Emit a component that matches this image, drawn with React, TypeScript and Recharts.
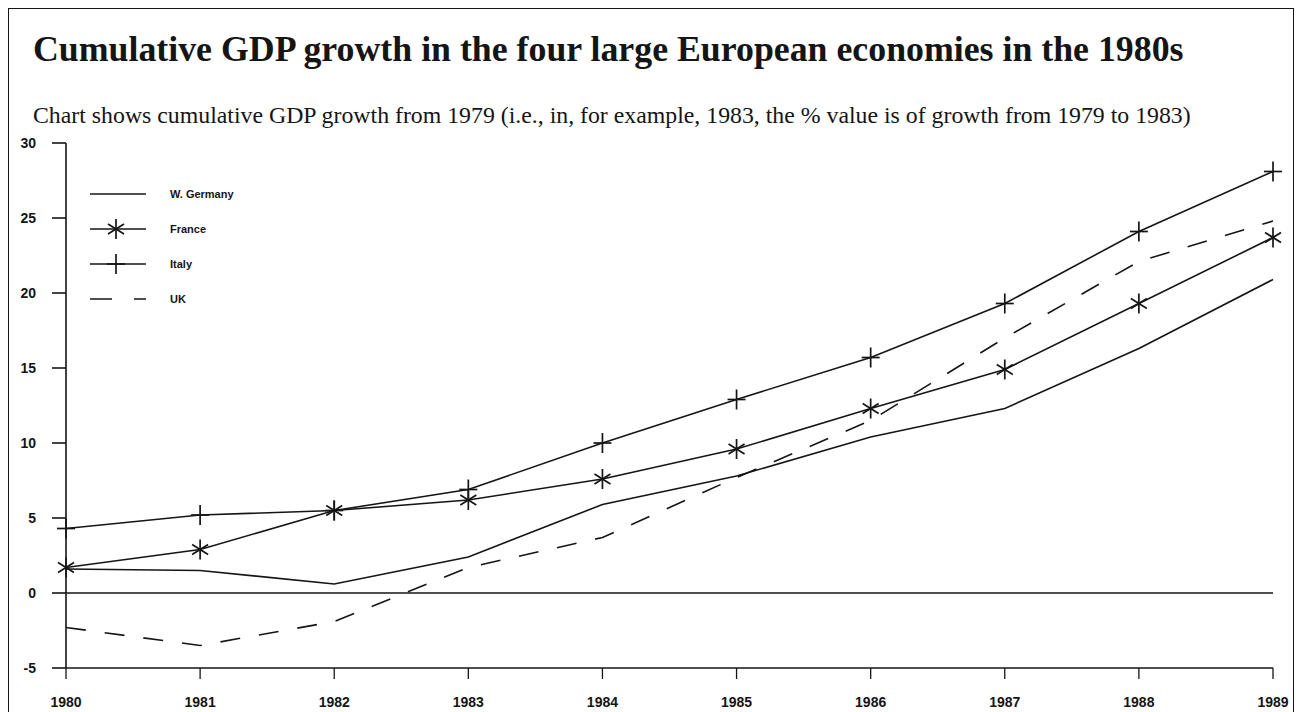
import { LineChart, Line, XAxis, YAxis, ReferenceLine } from "recharts";

const years = ["1980", "1981", "1982", "1983", "1984", "1985", "1986", "1987", "1988", "1989"];
const wGermany = [1.6, 1.5, 0.6, 2.4, 5.9, 7.8, 10.4, 12.3, 16.3, 20.9];
const france = [1.7, 2.9, 5.5, 6.2, 7.6, 9.6, 12.3, 14.9, 19.3, 23.7];
const italy = [4.3, 5.2, 5.5, 6.9, 10.0, 12.9, 15.7, 19.3, 24.1, 28.1];
const uk = [-2.3, -3.5, -1.9, 1.7, 3.7, 7.7, 11.5, 17.0, 22.1, 24.8];
const yTicks = [-5, 0, 5, 10, 15, 20, 25, 30];

const data = years.map((year, i) => ({
  year,
  wGermany: wGermany[i],
  france: france[i],
  italy: italy[i],
  uk: uk[i],
}));

const INK = "#151515";
const SANS = "Arial, 'Liberation Sans', sans-serif";
const SERIF = "'Times New Roman', 'Liberation Serif', serif";

function Asterisk({ cx, cy }: { cx: number; cy: number }) {
  return (
    <g stroke={INK} strokeWidth={1.7}>
      <line x1={cx} y1={cy - 10} x2={cx} y2={cy + 10} />
      <line x1={cx - 8} y1={cy - 5} x2={cx + 8} y2={cy + 5} />
      <line x1={cx - 8} y1={cy + 5} x2={cx + 8} y2={cy - 5} />
    </g>
  );
}

function Plus({ cx, cy }: { cx: number; cy: number }) {
  return (
    <g stroke={INK} strokeWidth={1.7}>
      <line x1={cx} y1={cy - 10} x2={cx} y2={cy + 10} />
      <line x1={cx - 9} y1={cy} x2={cx + 9} y2={cy} />
    </g>
  );
}

const legendItems = [
  { key: "wGermany", label: "W. Germany" },
  { key: "france", label: "France" },
  { key: "italy", label: "Italy" },
  { key: "uk", label: "UK" },
];

// legend drawn as an overlay so it doesn't eat into the plot area
function LegendBox() {
  return (
    <div style={{ position: "absolute", left: 88, top: 176 }}>
      {legendItems.map((item) => (
        <div key={item.key} style={{ display: "flex", alignItems: "center", height: 35 }}>
          <svg width={60} height={24} style={{ marginRight: 22 }}>
            {item.key === "uk" ? (
              <line x1={2} y1={12} x2={58} y2={12} stroke={INK} strokeWidth={1.6} strokeDasharray="22 22" />
            ) : (
              <line x1={2} y1={12} x2={58} y2={12} stroke={INK} strokeWidth={1.6} />
            )}
            {item.key === "france" && <Asterisk cx={28} cy={12} />}
            {item.key === "italy" && <Plus cx={28} cy={12} />}
          </svg>
          <span style={{ fontFamily: SANS, fontSize: 11, fontWeight: 700, color: INK }}>{item.label}</span>
        </div>
      ))}
    </div>
  );
}

export default function App() {
  return (
    <div style={{ position: "absolute", left: 0, top: 0, width: 1300, height: 712, background: "#fff", overflow: "hidden" }}>
      <div
        style={{
          position: "absolute",
          left: 8,
          top: 8,
          width: 1284,
          height: 720,
          border: `1.5px solid ${INK}`,
        }}
      />
      <div
        style={{
          position: "absolute",
          left: 33,
          top: 28,
          fontFamily: SERIF,
          fontWeight: 700,
          fontSize: 35.8,
          color: INK,
          whiteSpace: "nowrap",
        }}
      >
        Cumulative GDP growth in the four large European economies in the 1980s
      </div>
      <div
        style={{
          position: "absolute",
          left: 33,
          top: 102,
          fontFamily: SERIF,
          fontSize: 23.8,
          color: INK,
          whiteSpace: "nowrap",
        }}
      >
        Chart shows cumulative GDP growth from 1979 (i.e., in, for example, 1983, the % value is of growth from 1979 to 1983)
      </div>
      <div style={{ position: "absolute", left: 0, top: 0 }}>
        <LineChart width={1300} height={712} data={data} margin={{ top: 143, right: 27, bottom: 14, left: 16 }}>
          <XAxis
            dataKey="year"
            axisLine={{ stroke: INK, strokeWidth: 1.6 }}
            tickLine={{ stroke: INK, strokeWidth: 1.3 }}
            tickSize={11}
            tickMargin={18}
            height={30}
            interval={0}
            tick={{ fill: INK, fontFamily: SANS, fontSize: 14, fontWeight: 700 }}
          />
          <YAxis
            domain={[-5, 30]}
            ticks={yTicks}
            width={50}
            axisLine={{ stroke: INK, strokeWidth: 1.6 }}
            tickLine={{ stroke: INK, strokeWidth: 1.6 }}
            tickSize={14}
            tickMargin={16}
            tick={{ fill: INK, fontFamily: SANS, fontSize: 14, fontWeight: 700 }}
          />
          <ReferenceLine y={0} stroke={INK} strokeWidth={1.6} />
          <Line
            dataKey="wGermany"
            stroke={INK}
            strokeWidth={1.6}
            dot={false}
            activeDot={false}
            isAnimationActive={false}
          />
          <Line
            dataKey="france"
            stroke={INK}
            strokeWidth={1.6}
            dot={(p: any) => <Asterisk key={`f${p.index}`} cx={p.cx} cy={p.cy} />}
            activeDot={false}
            isAnimationActive={false}
          />
          <Line
            dataKey="italy"
            stroke={INK}
            strokeWidth={1.6}
            dot={(p: any) => <Plus key={`i${p.index}`} cx={p.cx} cy={p.cy} />}
            activeDot={false}
            isAnimationActive={false}
          />
          <Line
            dataKey="uk"
            stroke={INK}
            strokeWidth={1.6}
            strokeDasharray="20 19"
            dot={false}
            activeDot={false}
            isAnimationActive={false}
          />
        </LineChart>
      </div>
      <LegendBox />
    </div>
  );
}
